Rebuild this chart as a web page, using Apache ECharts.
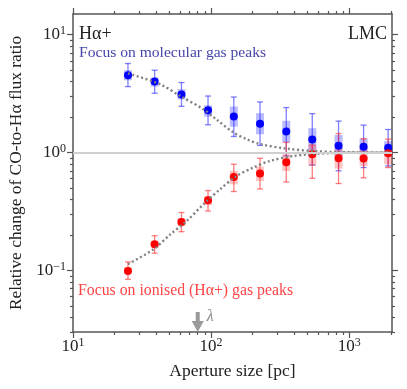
<!DOCTYPE html>
<html>
<head>
<meta charset="utf-8">
<script src="https://cdn.jsdelivr.net/npm/echarts@6/dist/echarts.min.js"></script>
<style>
  html, body { margin: 0; padding: 0; background: #fff; }
  #chart { width: 407px; height: 389px; }
</style>
</head>
<body>
<div id="chart"></div>
<script>
// region data

// aperture sizes [pc]
const apertures = [25, 39, 61, 95, 146, 226, 350, 540, 837, 1270, 1914]

// focus on molecular gas peaks (blue)
const molRatio = [4.53, 4.01, 3.11, 2.29, 2.02, 1.76, 1.51, 1.29, 1.14, 1.12, 1.10]
const molErrLow = [3.63, 3.19, 2.47, 1.72, 1.37, 1.15, 0.936, 0.785, 0.70, 0.746, 0.77]
const molErrHigh = [5.70, 5.00, 3.93, 3.02, 2.96, 2.69, 2.41, 2.14, 1.85, 1.71, 1.57]
const molBoxLow = [4.11, 3.63, 2.83, 2.02, 1.66, 1.43, 1.22, 0.935, 0.935, 0.987, 0.935]
const molBoxHigh = [5.00, 4.33, 3.45, 2.52, 2.46, 2.16, 1.86, 1.61, 1.41, 1.32, 1.25]

// focus on ionised gas peaks (red)
const ionRatio = [0.0988, 0.167, 0.258, 0.394, 0.621, 0.663, 0.828, 0.967, 0.895, 0.889, 0.987]
const ionErrLow = [0.084, 0.140, 0.213, 0.319, 0.467, 0.491, 0.563, 0.605, 0.546, 0.61, 0.746]
const ionErrHigh = [0.118, 0.197, 0.31, 0.476, 0.796, 0.895, 1.22, 1.16, 1.45, 1.31, 1.30]
const ionBoxLow = [0.0944, 0.156, 0.238, 0.357, 0.538, 0.574, 0.698, 0.769, 0.731, 0.769, 0.796]
const ionBoxHigh = [0.1057, 0.178, 0.277, 0.428, 0.698, 0.760, 0.968, 1.16, 1.10, 1.10, 1.10]

// model curves (dotted)
const molModelX = [25, 42.8, 59.7, 88, 110, 145, 181, 226, 352, 549, 811, 1968]
const molModelY = [4.70, 3.80, 3.02, 2.33, 1.90, 1.48, 1.30, 1.18, 1.08, 1.03, 1.01, 1.0]
const ionModelX = [25, 38.3, 50.6, 66.7, 88, 116, 153, 202, 267, 394, 687, 1968]
const ionModelY = [0.113, 0.151, 0.202, 0.263, 0.364, 0.488, 0.633, 0.746, 0.849, 0.935, 0.987, 1.0]

// lambda marker [pc]
const lambdaScale = 80

// axes
const xRange = [10, 2040]
const yRange = [0.03, 15]
const xMajorTicks = [10, 100, 1000]
const xMinorTicks = [20, 30, 40, 50, 60, 70, 80, 90, 200, 300, 400, 500, 600, 700, 800, 900, 2000]
const yMajorTicks = [0.1, 1, 10]
const yMinorTicks = [0.03, 0.04, 0.05, 0.06, 0.07, 0.08, 0.09, 0.2, 0.3, 0.4, 0.5, 0.6, 0.7, 0.8, 0.9, 2, 3, 4, 5, 6, 7, 8, 9]

// endregion

const lg = v => Math.log10(v)
const FONT = '"Liberation Serif", "Times New Roman", serif'
const AXIS_COLOR = '#555'

function powLabel(v) {
  let e = Math.round(v)
  return '{b|10}{s|' + (e < 0 ? '\u2212' + (-e) : e) + '}'
}

const labelRich = {
  b: {fontFamily: FONT, fontSize: 17, color: '#222', lineHeight: 20},
  s: {fontFamily: FONT, fontSize: 12, color: '#222', verticalAlign: 'top', lineHeight: 20, padding: [0, 0, 9, 0]}
}

// one axis only for ticks (major or minor), drawn on bottom/top/left/right
function tickAxis(dir, position, ticks, len, showLine) {
  let range = dir === 'x' ? xRange : yRange
  return {
    type: 'value',
    position: position,
    min: lg(range[0]),
    max: lg(range[1]),
    splitLine: {show: false},
    axisLine: {show: showLine, onZero: false, lineStyle: {color: AXIS_COLOR, width: 1.5}},
    axisTick: {show: true, inside: false, length: len, customValues: ticks.map(lg), lineStyle: {color: AXIS_COLOR, width: 1.2}},
    axisLabel: {show: false}
  }
}

function errorBar(color) {
  return function (params, api) {
    let lo = api.coord([api.value(0), api.value(1)])
    let hi = api.coord([api.value(0), api.value(2)])
    let style = {stroke: color, lineWidth: 1.3}
    return {
      type: 'group',
      children: [
        {type: 'line', shape: {x1: lo[0], y1: lo[1], x2: hi[0], y2: hi[1]}, style: style},
        {type: 'line', shape: {x1: lo[0] - 3, y1: lo[1], x2: lo[0] + 3, y2: lo[1]}, style: style},
        {type: 'line', shape: {x1: hi[0] - 3, y1: hi[1], x2: hi[0] + 3, y2: hi[1]}, style: style}
      ]
    }
  }
}

function box(color) {
  return function (params, api) {
    let lo = api.coord([api.value(0), api.value(1)])
    let hi = api.coord([api.value(0), api.value(2)])
    return {
      type: 'rect',
      shape: {x: lo[0] - 4, y: hi[1], width: 8, height: lo[1] - hi[1]},
      style: {fill: color}
    }
  }
}

const rangeData = (lo, hi) => apertures.map((a, i) => [lg(a), lg(lo[i]), lg(hi[i])])
const pointData = vals => apertures.map((a, i) => [lg(a), lg(vals[i])])
const curveData = (xs, ys) => xs.map((x, i) => [lg(x), lg(ys[i])])

const bottomX = tickAxis('x', 'bottom', xMajorTicks, 6, true)
bottomX.axisLabel = {
  show: true, customValues: xMajorTicks.map(lg), margin: 5,
  formatter: powLabel, rich: labelRich
}
bottomX.name = 'Aperture size [pc]'
bottomX.nameLocation = 'middle'
bottomX.nameGap = 29
bottomX.nameTextStyle = {fontFamily: FONT, fontSize: 17.5, color: '#222'}

const leftY = tickAxis('y', 'left', yMajorTicks, 6, true)
leftY.axisLabel = {
  show: true, customValues: yMajorTicks.map(lg), margin: 7,
  formatter: powLabel, rich: labelRich
}
leftY.name = 'Relative change of CO-to-H\u03b1 flux ratio'
leftY.nameLocation = 'middle'
leftY.nameGap = 48
leftY.nameRotate = 90
leftY.nameTextStyle = {fontFamily: FONT, fontSize: 17.4, color: '#222'}

const option = {
  animation: false,
  grid: {left: 73, right: 15, top: 14, bottom: 57},
  xAxis: [
    bottomX,
    tickAxis('x', 'bottom', xMinorTicks, 3, false),
    tickAxis('x', 'top', xMajorTicks, 6, true),
    tickAxis('x', 'top', xMinorTicks, 3, false)
  ],
  yAxis: [
    leftY,
    tickAxis('y', 'left', yMinorTicks, 3, false),
    tickAxis('y', 'right', yMajorTicks, 6, true),
    tickAxis('y', 'right', yMinorTicks, 3, false)
  ],
  graphic: [
    {type: 'text', left: 79, top: 25, style: {text: 'H\u03b1+', font: '18px ' + FONT, fill: '#222'}},
    {type: 'text', right: 20, top: 25, style: {text: 'LMC', font: '18px ' + FONT, fill: '#222'}},
    {type: 'text', left: 79, top: 45, style: {text: 'Focus on molecular gas peaks', font: '15.6px ' + FONT, fill: '#4646aa'}},
    {type: 'text', left: 78, top: 283, style: {text: 'Focus on ionised (H\u03b1+) gas peaks', font: '15.8px ' + FONT, fill: '#ff4545'}}
  ],
  series: [
    {
      // reference line at ratio = 1 and lambda arrow
      type: 'line',
      data: [],
      silent: true,
      markLine: {
        silent: true,
        symbol: 'none',
        label: {show: false},
        lineStyle: {color: '#cfcfcf', width: 2, type: 'solid'},
        data: [{yAxis: 0}]
      },
      markPoint: {
        silent: true,
        symbol: 'path://M4,0 L8,0 L8,9 L12,9 L6,20 L0,9 L4,9 Z',
        symbolSize: [12, 20],
        symbolKeepAspect: false,
        symbolOffset: [0, '-50%'],
        itemStyle: {color: '#9a9a9a'},
        label: {
          show: true, position: 'right', distance: 3, offset: [0, -5],
          formatter: '\u03bb', fontFamily: FONT, fontStyle: 'italic', fontSize: 16, color: '#888'
        },
        data: [{coord: [lg(lambdaScale), lg(yRange[0])]}]
      }
    },
    {
      type: 'line', data: curveData(molModelX, molModelY), smooth: 0.3, symbol: 'none', silent: true,
      lineStyle: {color: '#808080', width: 2.4, type: [2, 2.6]}
    },
    {
      type: 'line', data: curveData(ionModelX, ionModelY), smooth: 0.3, symbol: 'none', silent: true,
      lineStyle: {color: '#808080', width: 2.4, type: [2, 2.6]}
    },
    {type: 'custom', renderItem: box('rgba(60,60,255,0.35)'), data: rangeData(molBoxLow, molBoxHigh), silent: true},
    {type: 'custom', renderItem: errorBar('rgba(40,40,255,0.6)'), data: rangeData(molErrLow, molErrHigh), silent: true},
    {type: 'scatter', data: pointData(molRatio), symbolSize: 8, itemStyle: {color: '#0000ff', opacity: 1}, silent: true},
    {type: 'custom', renderItem: box('rgba(255,60,60,0.3)'), data: rangeData(ionBoxLow, ionBoxHigh), silent: true},
    {type: 'custom', renderItem: errorBar('rgba(255,40,40,0.6)'), data: rangeData(ionErrLow, ionErrHigh), silent: true},
    {type: 'scatter', data: pointData(ionRatio), symbolSize: 8, itemStyle: {color: '#ff0000', opacity: 1}, silent: true}
  ]
}

const chart = echarts.init(document.getElementById('chart'))
chart.setOption(option)
</script>
</body>
</html>
